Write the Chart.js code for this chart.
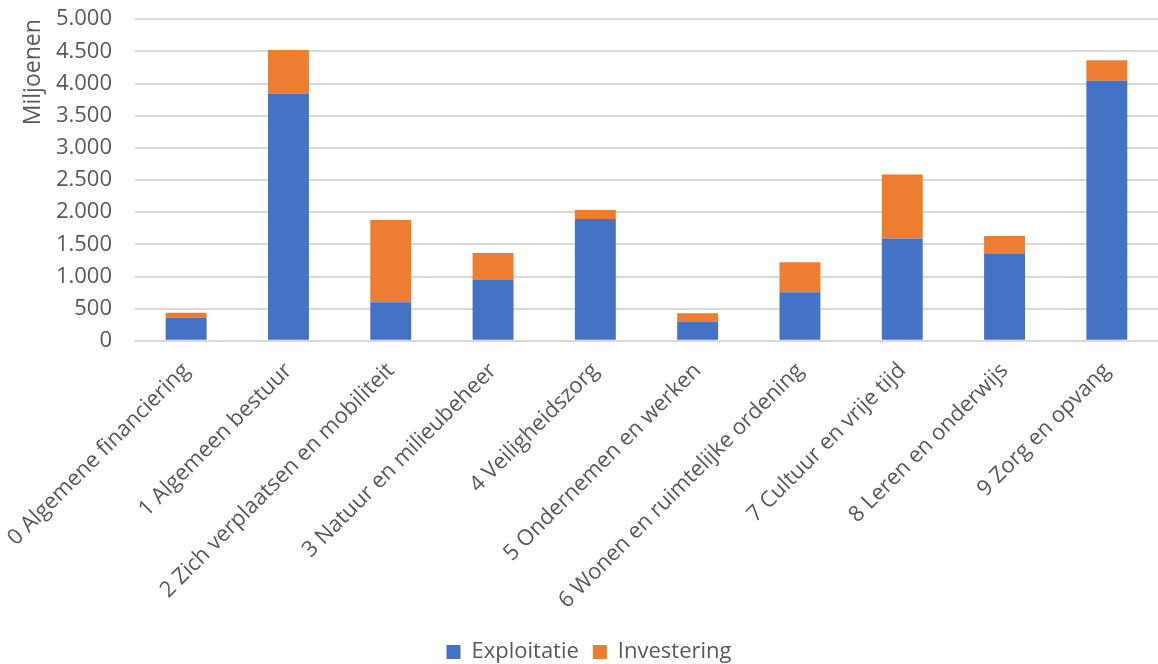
<!DOCTYPE html>
<html>
<head>
<meta charset="utf-8">
<script src="https://cdn.jsdelivr.net/npm/chart.js@4"></script>
<style>
  html, body { margin: 0; padding: 0; background: #fff; }
  #wrap { width: 1158px; height: 664px; }
</style>
</head>
<body>
<div id="wrap"><canvas id="chart"></canvas></div>
<script>
// Categorieën (taakvelden)
const categories = [
    '0 Algemene financiering',
    '1 Algemeen bestuur',
    '2 Zich verplaatsen en mobiliteit',
    '3 Natuur en milieubeheer',
    '4 Veiligheidszorg',
    '5 Ondernemen en werken',
    '6 Wonen en ruimtelijke ordening',
    '7 Cultuur en vrije tijd',
    '8 Leren en onderwijs',
    '9 Zorg en opvang'
];

// Waarden in miljoenen
const exploitatie = [360, 3840, 600, 945, 1895, 300, 755, 1590, 1350, 4045];
const investering = [75, 680, 1280, 420, 140, 130, 465, 995, 280, 315];

const yTicks = [0, 500, 1000, 1500, 2000, 2500, 3000, 3500, 4000, 4500, 5000];

const textColor = '#595959';
const gridColor = '#d9d9d9';
const fontFamily = "'Open Sans', 'Noto Sans', sans-serif";

Chart.defaults.font.family = fontFamily;
Chart.defaults.color = textColor;

const ctx = document.getElementById('chart').getContext('2d');
new Chart(ctx, {
    type: 'bar',
    data: {
        labels: categories,
        datasets: [
            {
                label: 'Exploitatie',
                data: exploitatie,
                backgroundColor: '#4472c4',
                borderWidth: 0,
                barPercentage: 0.4,
                categoryPercentage: 1
            },
            {
                label: 'Investering',
                data: investering,
                backgroundColor: '#ed7d31',
                borderWidth: 0,
                barPercentage: 0.4,
                categoryPercentage: 1
            }
        ]
    },
    options: {
        responsive: true,
        maintainAspectRatio: false,
        animation: false,
        layout: { padding: { top: 0, right: 0, left: 20, bottom: -9 } },
        plugins: {
            tooltip: { enabled: false },
            legend: {
                position: 'bottom',
                labels: {
                    boxWidth: 14,
                    boxHeight: 14,
                    padding: 14,
                    color: textColor,
                    font: { size: 22 }
                }
            }
        },
        scales: {
            x: {
                stacked: true,
                // onzichtbare tick-streepjes geven ruimte tussen as en labels
                grid: {
                    display: true,
                    drawOnChartArea: false,
                    drawTicks: true,
                    tickLength: 17,
                    color: 'rgba(0,0,0,0)'
                },
                border: { color: gridColor, width: 2 },
                ticks: {
                    minRotation: 45,
                    maxRotation: 45,
                    padding: 0,
                    color: textColor,
                    font: { size: 22 }
                },
                afterFit: (axis) => {
                    axis.height += 13; // extra ruimte boven de legenda
                }
            },
            y: {
                stacked: true,
                min: 0,
                max: 5000,
                afterBuildTicks: (axis) => {
                    axis.ticks = yTicks.map(v => ({ value: v }));
                },
                afterFit: (axis) => {
                    axis.width = 115;
                },
                grid: {
                    color: gridColor,
                    lineWidth: 2,
                    drawTicks: true,
                    tickLength: 17,
                    tickColor: 'rgba(0,0,0,0)'
                },
                border: { display: false },
                ticks: {
                    padding: 6,
                    color: textColor,
                    font: { size: 22 },
                    callback: (v) => v.toLocaleString('nl-NL')
                },
                title: {
                    display: true,
                    text: 'Miljoenen',
                    align: 'end',
                    color: textColor,
                    font: { size: 23 },
                    padding: { top: 0, bottom: 0 }
                }
            }
        }
    }
});
</script>
</body>
</html>
